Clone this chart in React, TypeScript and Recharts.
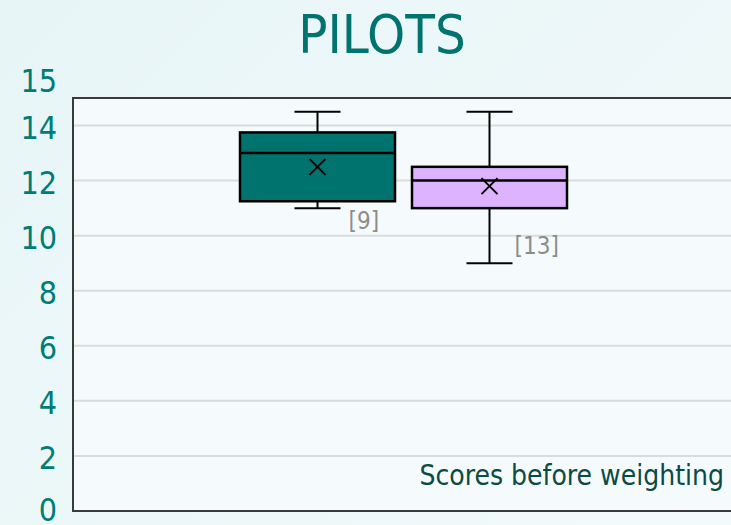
import React from "react";
import {
  ComposedChart,
  Bar,
  XAxis,
  YAxis,
  CartesianGrid,
  ReferenceArea,
} from "recharts";

const categories = ["Pilots"];
const seriesKeys = ["groupA", "groupB"];
const mins = [11, 9];
const q1s = [11.25, 11];
const medians = [13, 12];
const q3s = [13.75, 12.5];
const maxs = [14.5, 14.5];
const means = [12.5, 11.8];
const counts = [9, 13];
const yTicks = [0, 2, 4, 6, 8, 10, 12, 14, 15];

const data = categories.map((name) => {
  const row: Record<string, any> = { name };
  seriesKeys.forEach((k, i) => {
    row[k] = [q1s[i], q3s[i]];
  });
  return row;
});

const FONT = "'DejaVu Sans Condensed', 'Liberation Sans Narrow', 'DejaVu Sans', sans-serif";
const boxColors = ["#00736e", "#ddb3fd"];
const labelOffsets = [
  { dx: 31, dy: 13 },
  { dx: 25, dy: -17 },
];

function BoxShape(props: any) {
  const { x, y, width, height, i } = props;
  const top = Math.min(y, y + height);
  const bottom = Math.max(y, y + height);
  const ppu = (bottom - top) / (q3s[i] - q1s[i]);
  const py = (v: number) => bottom - (v - q1s[i]) * ppu;
  const cx = x + width / 2;
  const cap = 23;
  const m = 8;
  const my = py(means[i]);
  return (
    <g>
      <line x1={cx} x2={cx} y1={py(maxs[i])} y2={top} stroke="#000" strokeWidth={2} />
      <line x1={cx} x2={cx} y1={bottom} y2={py(mins[i])} stroke="#000" strokeWidth={2} />
      <line x1={cx - cap} x2={cx + cap} y1={py(maxs[i])} y2={py(maxs[i])} stroke="#000" strokeWidth={2} />
      <line x1={cx - cap} x2={cx + cap} y1={py(mins[i])} y2={py(mins[i])} stroke="#000" strokeWidth={2} />
      <rect x={x} y={top} width={width} height={bottom - top} fill={boxColors[i]} stroke="#000" strokeWidth={2.5} />
      <line x1={x} x2={x + width} y1={py(medians[i])} y2={py(medians[i])} stroke="#000" strokeWidth={2.5} />
      <line x1={cx - m} x2={cx + m} y1={my - m} y2={my + m} stroke="#000" strokeWidth={2} />
      <line x1={cx - m} x2={cx + m} y1={my + m} y2={my - m} stroke="#000" strokeWidth={2} />
      <text
        x={cx + labelOffsets[i].dx}
        y={py(mins[i]) + labelOffsets[i].dy}
        dominantBaseline="central"
        fill="#8c8c8c"
        fontSize={24}
        fontFamily={FONT}
      >
        [{counts[i]}]
      </text>
    </g>
  );
}

function YTick(props: any) {
  const { x, y, payload } = props;
  const shift = payload.value === 15 ? -17 : payload.value === 0 ? -1 : 2;
  return (
    <text
      x={x - 8}
      y={y + shift}
      textAnchor="end"
      dominantBaseline="central"
      fill="#007c75"
      fontSize={32}
      fontFamily={FONT}
    >
      {payload.value}
    </text>
  );
}

export default function App() {
  return (
    <div
      style={{
        position: "fixed",
        left: 0,
        top: 0,
        width: 731,
        height: 525,
        overflow: "hidden",
        background: "linear-gradient(135deg, #e7f5f7 0%, #f3fafb 100%)",
        fontFamily: FONT,
      }}
    >
      <div
        style={{
          position: "absolute",
          left: 0,
          top: 4,
          width: 764,
          textAlign: "center",
          fontSize: 54,
          lineHeight: "62px",
          color: "#00736e",
        }}
      >
        PILOTS
      </div>
      <ComposedChart
        width={740}
        height={525}
        data={data}
        margin={{ top: 98, right: 6, bottom: 14, left: 0 }}
        barGap={17}
        style={{ position: "absolute", left: 0, top: 0 }}
      >
        <CartesianGrid vertical={false} stroke="#dadcdc" strokeWidth={2} fill="#f5fbfc" />
        <XAxis dataKey="name" hide />
        <YAxis
          domain={[0, 15]}
          ticks={yTicks}
          width={73}
          axisLine={false}
          tickLine={false}
          tick={<YTick />}
          interval={0}
        />
        <ReferenceArea y1={0} y2={15} fill="none" stroke="#3a3a3a" strokeWidth={2} ifOverflow="visible" />
        {seriesKeys.map((k, i) => (
          <Bar
            key={k}
            dataKey={k}
            barSize={155}
            fill={boxColors[i]}
            isAnimationActive={false}
            shape={(p: any) => <BoxShape {...p} i={i} />}
          />
        ))}
      </ComposedChart>
      <div
        style={{
          position: "absolute",
          right: 7,
          top: 456,
          fontSize: 28,
          lineHeight: "40px",
          color: "#0b4a45",
        }}
      >
        Scores before weighting
      </div>
    </div>
  );
}
